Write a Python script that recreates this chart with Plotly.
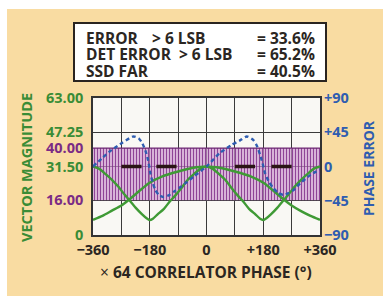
import plotly.graph_objects as go

# ---------------- data ----------------
x_tickvals = [-360, -270, -180, -90, 0, 90, 180, 270, 360]
x_ticktext = ["−360", "", "−180", "", "0", "", "+180", "", "+360"]

y_tickvals = [0, 16, 31.5, 40, 47.25, 63]
y_ticktext = ["0", "16.00", "31.50", "40.00", "47.25", "63.00"]
y_tickkind = ["g", "p", "g", "p", "g", "g"]

y2_tickvals = [-90, -45, 0, 45, 90]
y2_ticktext = ["−90", "−45", "0", "+45", "+90"]

band_x = [-360, 360]
band_low = [16, 16]
band_high = [40, 40]

# vector magnitude, curve with 360 deg period
mag_a_x = [-360, -340, -320, -300, -280, -260, -245, -225, -205, -190, -180,
           -170, -155, -135, -115, -100, -80, -60, -40, -20, 0,
           20, 40, 60, 80, 100, 115, 135, 155, 170, 180,
           190, 205, 225, 245, 260, 280, 300, 320, 340, 360]
mag_a_y = [31.5, 30.4, 28.0, 25.4, 22.3, 18.6, 16.1, 12.6, 9.6, 7.7, 6.9,
           7.5, 9.5, 12.0, 15.7, 18.0, 21.5, 25.3, 28.0, 30.4, 31.5,
           30.4, 28.0, 25.3, 21.5, 18.0, 15.7, 12.0, 9.5, 7.5, 6.9,
           7.7, 9.6, 12.6, 16.1, 18.6, 22.3, 25.4, 28.0, 30.4, 31.5]

# vector magnitude, curve with 720 deg period
mag_b_x = [-360, -330, -300, -270, -247, -215, -183, -140, -90, -45, 0,
           45, 90, 140, 183, 215, 247, 270, 300, 330, 360]
mag_b_y = [7.0, 8.8, 11.2, 13.6, 16.1, 20.0, 23.8, 27.0, 29.2, 30.8, 31.5,
           30.8, 29.2, 27.0, 23.8, 20.0, 16.1, 13.6, 11.0, 8.8, 7.0]

# phase error (right axis)
phase_x = [-360, -331, -300, -268, -245, -231, -215, -204, -193, -185, -178,
           -170, -162, -150, -137, -120, -100, -79, -40, 0,
           42, 80, 105, 128, 148, 160, 170, 178, 186, 198, 212, 228, 244,
           260, 276, 300, 330, 360]
phase_y = [0, 11, 22, 31, 37, 39.5, 37, 31, 20, 8, -9,
           -22, -31, -38, -40, -38, -32, -26, -13, 0,
           17.6, 28.5, 34, 39.5, 35, 27, 15.4, 4, -9, -20, -28.5, -35, -37.3,
           -35, -31, -21, -11, -4]

# black reference dashes at zero phase error
dash_starts = [-270, -159, 90, 206]
dash_ends = [-206, -95, 154, 270]
dash_level = 31.5

box_left = ["ERROR", "DET ERROR  > 6 LSB", "SSD FAR"]
box_mid = ["> 6 LSB", "", ""]
box_right = ["= 33.6%", "= 65.2%", "= 40.5%"]

# ---------------- style ----------------
W, H = 383, 296
ML, MR, MT, MB = 93, 63, 98, 61
PW, PH = W - ML - MR, H - MT - MB

GREEN = "#3a8c36"
PURPLE = "#7b2b85"
BLUE = "#2f5db0"
DARK = "#2b2622"
TAN = "#f9dca2"
FONT = "Open Sans"


def px(xp):
    return (xp - ML) / PW


def py(yp):
    return (H - MB - yp) / PH


fig = go.Figure()

# purple noise band
fig.add_trace(go.Scatter(x=band_x, y=band_low, mode="lines",
                         line=dict(width=0, color=PURPLE), showlegend=False,
                         hoverinfo="skip"))
fig.add_trace(go.Scatter(x=band_x, y=band_high, mode="lines",
                         line=dict(width=1, color="#6a2070"), fill="tonexty",
                         fillcolor="rgba(200,130,200,0.7)",
                         fillpattern=dict(shape="|", fgcolor="#7e2a88",
                                          bgcolor="rgba(232,190,232,0.6)",
                                          fgopacity=0.85, size=3, solidity=0.5),
                         showlegend=False, hoverinfo="skip"))

# green magnitude curves
for xs, ys in [(mag_a_x, mag_a_y), (mag_b_x, mag_b_y)]:
    fig.add_trace(go.Scatter(x=xs, y=ys, mode="lines",
                             line=dict(color="#3f9a35", width=2.4,
                                       shape="spline", smoothing=0.6),
                             showlegend=False))

# phase error dotted
fig.add_trace(go.Scatter(x=phase_x, y=phase_y, mode="lines", yaxis="y2",
                         line=dict(color=BLUE, width=2.4, dash="4px,3px",
                                   shape="spline", smoothing=0.6),
                         showlegend=False))

# black dashes
dx, dy = [], []
for s, e in zip(dash_starts, dash_ends):
    dx += [s, e, None]
    dy += [dash_level, dash_level, None]
fig.add_trace(go.Scatter(x=dx, y=dy, mode="lines",
                         line=dict(color="#2a1414", width=3.5),
                         showlegend=False))

col = {"g": GREEN, "p": PURPLE}
y_text = [f"<span style='color:{col[k]}'>{t}</span>"
          for t, k in zip(y_ticktext, y_tickkind)]

fig.update_layout(
    width=W, height=H,
    margin=dict(l=ML, r=MR, t=MT, b=MB, pad=0, autoexpand=False),
    paper_bgcolor=TAN, plot_bgcolor="#f9f8f4",
    font=dict(family=FONT, size=14, color=DARK),
    showlegend=False,
    xaxis=dict(range=[-360, 360], tickvals=x_tickvals, ticktext=x_ticktext,
               showgrid=True, gridcolor="#3a3a3a", gridwidth=1,
               showline=True, linecolor="#333", linewidth=1.5, mirror=True,
               zeroline=False, ticks="", ticklabelstandoff=1,
               tickfont=dict(family=FONT, size=14.5, color=DARK,
                             weight="bold")),
    yaxis=dict(range=[0, 63], tickvals=y_tickvals, ticktext=y_text,
               showgrid=True, gridcolor="#3a3a3a", gridwidth=1,
               showline=True, linecolor="#333", linewidth=1.5, mirror=True,
               zeroline=False, ticks="", ticklabelstandoff=5,
               tickfont=dict(family=FONT, size=14.5, color=GREEN,
                             weight="bold")),
    yaxis2=dict(range=[-90, 90], tickvals=y2_tickvals, ticktext=y2_ticktext,
                overlaying="y", side="right", showgrid=False, zeroline=False,
                showline=False, ticks="", ticklabelstandoff=3,
                tickfont=dict(family=FONT, size=14.5, color=BLUE,
                              weight="bold")),
)

shapes = [
    # white strips at top and left edge
    dict(type="rect", xref="paper", yref="paper", x0=px(-5), x1=px(W + 5),
         y0=py(9), y1=py(-5), fillcolor="white", line=dict(width=0),
         layer="below"),
    dict(type="rect", xref="paper", yref="paper", x0=px(-5), x1=px(7),
         y0=py(H + 5), y1=py(-5), fillcolor="white", line=dict(width=0),
         layer="below"),
    # legend box
    dict(type="rect", xref="paper", yref="paper", x0=px(74), x1=px(326),
         y0=py(81), y1=py(23), fillcolor="white",
         line=dict(color="#2a2420", width=2)),
]
fig.update_layout(shapes=shapes)

ann = []
rows_y = [37, 54, 70]
BOX_FS = 15.5
for i, yv in enumerate(rows_y):
    ann.append(dict(x=px(85), y=py(yv), xref="paper", yref="paper",
                    text=f"<b>{box_left[i]}</b>", showarrow=False,
                    xanchor="left", yanchor="middle", height=15,
                    borderpad=0,
                    font=dict(family=FONT, size=BOX_FS, color=DARK)))
    if box_mid[i]:
        ann.append(dict(x=px(151), y=py(yv), xref="paper", yref="paper",
                        text=f"<b>{box_mid[i]}</b>", showarrow=False,
                        xanchor="left", yanchor="middle", height=15,
                        borderpad=0,
                        font=dict(family=FONT, size=BOX_FS, color=DARK)))
    ann.append(dict(x=px(316), y=py(yv), xref="paper", yref="paper",
                    text=f"<b>{box_right[i]}</b>", showarrow=False,
                    xanchor="right", yanchor="middle", height=15,
                    borderpad=0,
                    font=dict(family=FONT, size=BOX_FS, color=DARK)))

ann.append(dict(x=px(26), y=py(168), xref="paper", yref="paper",
                text="<b>VECTOR MAGNITUDE</b>", textangle=-90, showarrow=False,
                xanchor="center", yanchor="middle",
                font=dict(family=FONT, size=14.5, color=GREEN)))
ann.append(dict(x=px(368), y=py(168), xref="paper", yref="paper",
                text="<b>PHASE ERROR</b>", textangle=-90, showarrow=False,
                xanchor="center", yanchor="middle",
                font=dict(family=FONT, size=14, color=BLUE)))
ann.append(dict(x=px(206), y=py(272), xref="paper", yref="paper",
                text="× <b>64 CORRELATOR PHASE (°)</b>", showarrow=False,
                xanchor="center", yanchor="middle",
                font=dict(family=FONT, size=15.5, color=DARK)))
fig.update_layout(annotations=ann)

fig.write_html("out.html", config={"displayModeBar": False},
               post_script="document.body.style.margin='0';"
                           "document.body.style.overflow='hidden';")
